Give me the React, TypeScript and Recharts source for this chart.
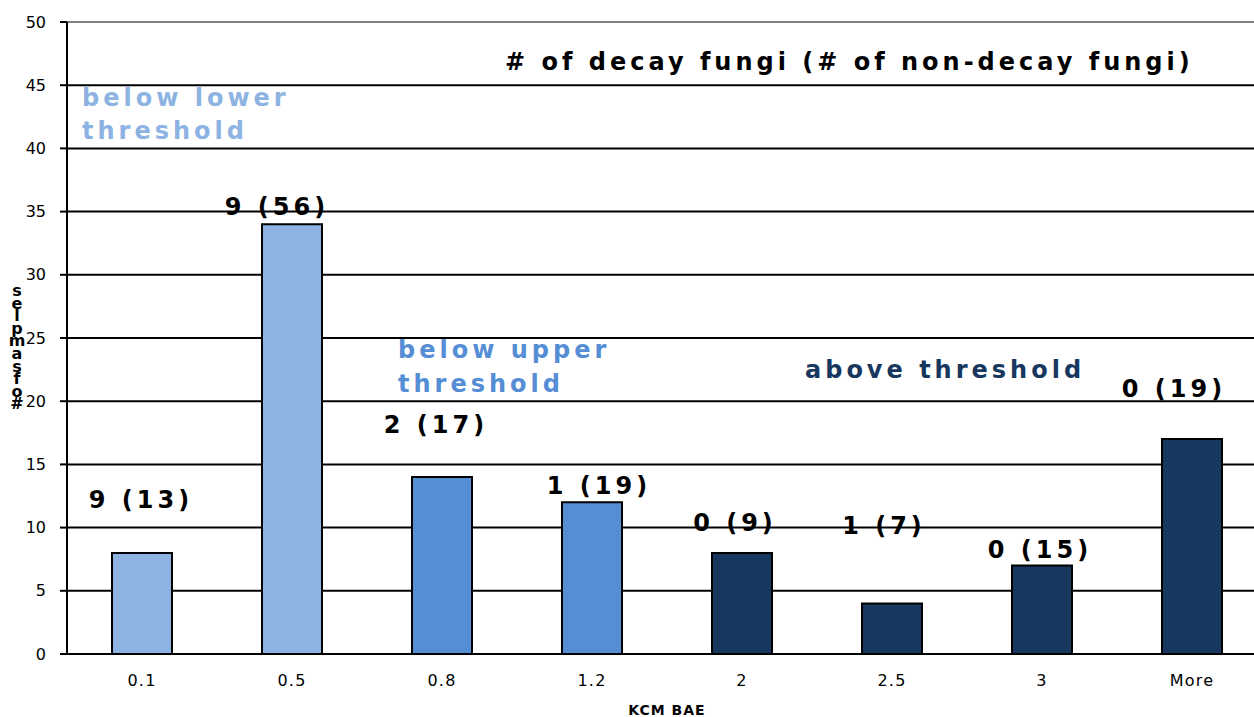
import React from 'react';
import {
  BarChart, Bar, XAxis, YAxis, CartesianGrid, Cell, ReferenceDot, ReferenceLine, Label
} from 'recharts';

const categories = ['0.1', '0.5', '0.8', '1.2', '2', '2.5', '3', 'More'];
const samples = [8, 34, 14, 12, 8, 4, 7, 17];
const groups = ['lower', 'lower', 'upper', 'upper', 'above', 'above', 'above', 'above'];
const barLabels = ['9 (13)', '9 (56)', '2 (17)', '1 (19)', '0 (9)', '1 (7)', '0 (15)', '0 (19)'];
const labelHeights = [12.2, 35.4, 18.1, 13.3, 10.4, 10.1, 8.2, 21.0];
const yTicks = [0, 5, 10, 15, 20, 25, 30, 35, 40, 45, 50];
const gridValues = [5, 10, 15, 20, 25, 30, 35, 40, 45];
const boundaryTicks = [1, 2, 3, 4, 5, 6, 7];

// small horizontal nudges of the bar labels, as placed in the original
const labelNudge = [-1, -15, -6, 7, -7, -8, -2, -18];

const COLORS: Record<string, string> = {
  lower: '#8DB3E2',
  upper: '#558ED5',
  above: '#17375E',
};

const FONT = '"DejaVu Sans", Verdana, sans-serif';

const data = categories.map((c, i) => ({ cat: c, idx: i, value: samples[i] }));

const StackedYLabel = () => {
  const letters = '# of samples'.replace(/ /g, '').split('').reverse();
  return (
    <g>
      {letters.map((ch, i) => (
        <text
          key={i}
          x={17}
          y={296 + i * 12.6}
          textAnchor="middle"
          fontFamily={FONT}
          fontWeight="bold"
          fontSize={16}
          fill="#000"
        >
          {ch}
        </text>
      ))}
    </g>
  );
};

const textStyle = {
  fontFamily: FONT,
  fontWeight: 'bold' as const,
  fontSize: 24,
  letterSpacing: 4,
};

export default function App() {
  return (
    <div style={{ position: 'absolute', left: 0, top: 0, width: 1254, height: 717, overflow: 'hidden', background: '#fff' }}>
      <BarChart
        width={1290}
        height={717}
        data={data}
        margin={{ top: 22, right: 23, bottom: 0, left: 7 }}
        barCategoryGap={0}
      >
        <CartesianGrid vertical={false} horizontalValues={gridValues} stroke="#000" strokeWidth={2} />
        <ReferenceLine y={50} stroke="#808080" strokeWidth={2} />
        <XAxis
          dataKey="idx"
          xAxisId="b"
          type="number"
          domain={[0, 8]}
          ticks={boundaryTicks}
          height={0}
          tick={false}
          tickSize={8}
          tickLine={{ stroke: '#000', strokeWidth: 2 }}
          axisLine={false}
        />
        <XAxis
          dataKey="cat"
          height={63}
          tickLine={false}
          tickSize={0}
          tickMargin={21}
          axisLine={{ stroke: '#000', strokeWidth: 2 }}
          tick={{ fontFamily: FONT, fontSize: 16, fill: '#000', letterSpacing: 1.2 }}
        >
          <Label
            value="KCM BAE"
            position="insideBottom"
            offset={2}
            style={{ fontFamily: FONT, fontWeight: 'bold', fontSize: 14, fill: '#000', letterSpacing: 1 }}
          />
        </XAxis>
        <YAxis
          width={60}
          domain={[0, 50]}
          ticks={yTicks}
          interval={0}
          tickSize={7}
          tickMargin={14}
          tickLine={{ stroke: '#000', strokeWidth: 2 }}
          axisLine={{ stroke: '#000', strokeWidth: 2 }}
          tick={{ fontFamily: FONT, fontSize: 16, fill: '#000' }}
        >
          <Label content={<StackedYLabel />} />
        </YAxis>
        <Bar dataKey="value" barSize={60} stroke="#000" strokeWidth={2} isAnimationActive={false}>
          {data.map((d, i) => (
            <Cell key={d.cat} fill={COLORS[groups[i]]} />
          ))}
        </Bar>
        {categories.map((c, i) => (
          <ReferenceDot
            key={c}
            x={c}
            y={labelHeights[i]}
            r={0}
            stroke="none"
            fill="none"
            label={(p: any) => (
              <text
                x={p.viewBox.x + labelNudge[i]}
                y={p.viewBox.y}
                textAnchor="middle"
                dominantBaseline="central"
                style={textStyle}
                fill="#000"
              >
                {barLabels[i]}
              </text>
            )}
          />
        ))}
      </BarChart>
      <svg width={1254} height={717} style={{ position: 'absolute', left: 0, top: 0, pointerEvents: 'none' }}>
        <text x={505} y={70} style={textStyle} fill="#000">
          # of decay fungi (# of non-decay fungi)
        </text>
        <text x={82} y={106} style={textStyle} fill={COLORS.lower}>below lower</text>
        <text x={82} y={139} style={textStyle} fill={COLORS.lower}>threshold</text>
        <text x={398} y={358} style={textStyle} fill={COLORS.upper}>below upper</text>
        <text x={398} y={392} style={textStyle} fill={COLORS.upper}>threshold</text>
        <text x={805} y={378} style={textStyle} fill={COLORS.above}>above threshold</text>
      </svg>
    </div>
  );
}
